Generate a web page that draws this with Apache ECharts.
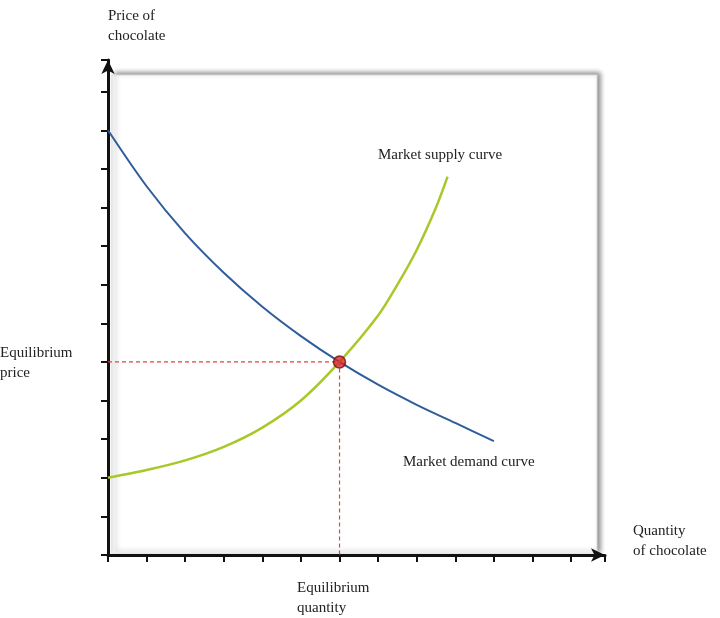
<!DOCTYPE html>
<html><head><meta charset="utf-8">
<script src="https://cdn.jsdelivr.net/npm/echarts@6/dist/echarts.min.js"></script>
<style>html,body{margin:0;background:#fff}#c{width:720px;height:618px}</style>
</head><body><div id="c"></div>
<script>
const demandX=[0,1,2,3,4,5,6,7,8,9,10];
const demandY=[11,9.55,8.33,7.31,6.43,5.67,5,4.41,3.89,3.42,2.95];
const supplyX=[0,1,2,3,4,5,6,7,7.5,8,8.5,8.8];
const supplyY=[2,2.2,2.45,2.8,3.3,4.0,5,6.2,7.0,7.9,9.0,9.8];
const eqX=6, eqY=5;
const F='"Liberation Serif","DejaVu Serif",serif';
const chart=echarts.init(document.getElementById('c'));
const zip=(a,b)=>a.map((v,i)=>[v,b[i]]);
chart.setOption({
  animation:false,
  grid:{left:108,top:60,width:497,height:495},
  xAxis:{type:'value',min:0,max:12.88,interval:1,splitLine:{show:false},axisLabel:{show:false},
    axisLine:{lineStyle:{color:'#111',width:3},symbol:['none','arrow'],symbolSize:[10,14]},
    axisTick:{length:7,lineStyle:{color:'#111',width:2}}},
  yAxis:{type:'value',min:0,max:12.82,interval:1,splitLine:{show:false},axisLabel:{show:false},
    axisLine:{lineStyle:{color:'#111',width:3},symbol:['none','arrow'],symbolSize:[10,14]},
    axisTick:{length:7,lineStyle:{color:'#111',width:2}}},
  graphic:[
    {type:'rect',z:-10,shape:{x:112,y:75,width:485,height:479},style:{fill:'#fff',stroke:'#ddd',shadowBlur:5,shadowColor:'rgba(0,0,0,0.45)',shadowOffsetX:3,shadowOffsetY:-2}},
    {type:'text',left:108,top:6,style:{text:'Price of\nchocolate',font:'15px '+F,fill:'#222',lineHeight:20}},
    {type:'text',left:0,top:343,style:{text:'Equilibrium\nprice',font:'15px '+F,fill:'#222',lineHeight:20}},
    {type:'text',left:297,top:578,style:{text:'Equilibrium\nquantity',font:'15px '+F,fill:'#222',lineHeight:20,align:'left'}},
    {type:'text',left:633,top:521,style:{text:'Quantity\nof chocolate',font:'15px '+F,fill:'#222',lineHeight:20}},
    {type:'text',left:378,top:148,style:{text:'Market supply curve',font:'15px '+F,fill:'#222'}},
    {type:'text',left:403,top:455,style:{text:'Market demand curve',font:'15px '+F,fill:'#222'}}
  ],
  series:[
    {type:'line',data:[[0,eqY],[eqX,eqY],[eqX,0]],symbol:'none',lineStyle:{color:'#e8413c',type:[4,3],width:1.2}},
    {type:'line',smooth:0.3,data:zip(demandX,demandY),symbol:'none',lineStyle:{color:'#2f5d9a',width:2}},
    {type:'line',smooth:0.3,data:zip(supplyX,supplyY),symbol:'none',lineStyle:{color:'#a8c82a',width:2.5}},
    {type:'scatter',data:[[eqX,eqY]],symbolSize:12,z:10,itemStyle:{color:'#d9262b',borderColor:'#6a1010',borderWidth:1.5}}
  ]
});
</script></body></html>
